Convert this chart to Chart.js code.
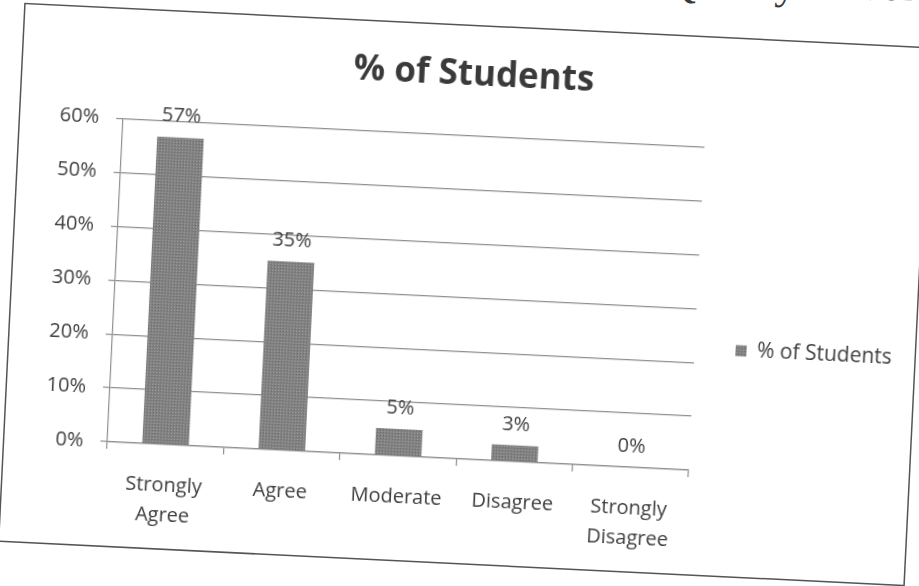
<!DOCTYPE html>
<html>
<head>
<meta charset="utf-8">
<script src="https://cdn.jsdelivr.net/npm/chart.js@4.4.1/dist/chart.umd.min.js"></script>
<style>
  body { margin: 0; width: 919px; height: 586px; overflow: hidden; background: #fff; position: relative; }
  #header { position: absolute; left: 665px; top: -40px; font: 44px/44px "Liberation Serif", serif; color: #3a3a3a; white-space: nowrap; transform: rotate(1deg); transform-origin: left top; }
  #frame { position: absolute; left: 11.5px; top: 25.5px; width: 905px; height: 537px; background: #fff; box-shadow: 0 0 0 1.5px #555; transform: rotate(2.8deg); }
  canvas { display: block; }
</style>
</head>
<body>
<div id="header">Quality Development</div>
<div id="frame"><canvas id="myChart" width="905" height="537"></canvas></div>
<script>
const categories = [['Strongly', 'Agree'], 'Agree', 'Moderate', 'Disagree', ['Strongly', 'Disagree']];
const studentValues = [57, 35, 5, 3, 0];
const seriesName = '% of Students';
const yTicks = [0, 10, 20, 30, 40, 50, 60];

const textColor = '#404040';
const lineColor = '#8f8f8f';
const font = '"Open Sans", "DejaVu Sans", sans-serif';

// greyish halftone like the printed bars
function halftone() {
  const c = document.createElement('canvas');
  c.width = 3; c.height = 3;
  const g = c.getContext('2d');
  g.fillStyle = '#828282'; g.fillRect(0, 0, 3, 3);
  g.fillStyle = '#a0a0a0'; g.fillRect(1, 1, 1, 1);
  g.fillStyle = '#6a6a6a'; g.fillRect(0, 2, 1, 1);
  return g.createPattern(c, 'repeat');
}

// value labels above the bars
const barLabels = {
  id: 'barLabels',
  afterDatasetsDraw(chart) {
    const ctx = chart.ctx;
    const meta = chart.getDatasetMeta(0);
    ctx.save();
    ctx.font = '20px ' + font;
    ctx.fillStyle = textColor;
    ctx.textAlign = 'center';
    ctx.textBaseline = 'middle';
    meta.data.forEach((bar, i) => {
      ctx.fillText(studentValues[i] + '%', bar.x, bar.y - 21);
    });
    ctx.restore();
  }
};

// work out the legend width so the plot ends where it should
const legendPad = 41, legendBox = 11, legendFont = 21;
const probe = document.createElement('canvas').getContext('2d');
probe.font = legendFont + 'px ' + font;
const legendWidth = legendPad + legendBox + legendFont / 2 + probe.measureText(seriesName).width + 10;
const padRight = Math.max(0, 905 - 685 - legendWidth);

const ctx = document.getElementById('myChart');
const chart = new Chart(ctx, {
  type: 'bar',
  data: {
    labels: categories,
    datasets: [{
      label: seriesName,
      data: studentValues,
      backgroundColor: halftone(),
      borderWidth: 0,
      categoryPercentage: 1,
      barPercentage: 0.4
    }]
  },
  options: {
    responsive: false,
    animation: false,
    devicePixelRatio: 1,
    layout: { padding: { top: 8, left: 10, right: padRight, bottom: 20.5 } },
    plugins: {
      title: {
        display: true,
        text: seriesName,
        color: '#3a3a3a',
        font: { family: font, size: 35, weight: 'bold', lineHeight: 1.2 },
        padding: { top: 20, bottom: 39.5 }
      },
      legend: {
        position: 'right',
        // empty legend title only used as a spacer to push the item down
        title: { display: true, text: ' ', font: { size: 10, lineHeight: 1 }, padding: { top: 88, bottom: 0 } },
        labels: {
          boxWidth: legendBox,
          boxHeight: legendBox,
          padding: legendPad,
          color: textColor,
          font: { family: font, size: legendFont }
        }
      },
      tooltip: { enabled: false }
    },
    scales: {
      x: {
        afterFit: (s) => { s.height = 83.5; },
        grid: { drawOnChartArea: false, drawTicks: true, tickLength: 7, color: lineColor, lineWidth: 1.2 },
        border: { display: true, color: lineColor, width: 1.2 },
        ticks: { color: textColor, padding: 19, font: { family: font, size: 20, lineHeight: 1.5 }, maxRotation: 0, autoSkip: false }
      },
      y: {
        min: yTicks[0],
        max: yTicks[yTicks.length - 1],
        afterFit: (s) => { s.width = 93; },
        grid: { color: lineColor, lineWidth: 1.2, tickLength: 7 },
        border: { display: true, color: lineColor, width: 1.2 },
        ticks: {
          stepSize: yTicks[1] - yTicks[0],
          padding: 17,
          color: textColor,
          font: { family: font, size: 20 },
          callback: (v) => v + '%'
        }
      }
    }
  },
  plugins: [barLabels]
});
</script>
</body>
</html>
